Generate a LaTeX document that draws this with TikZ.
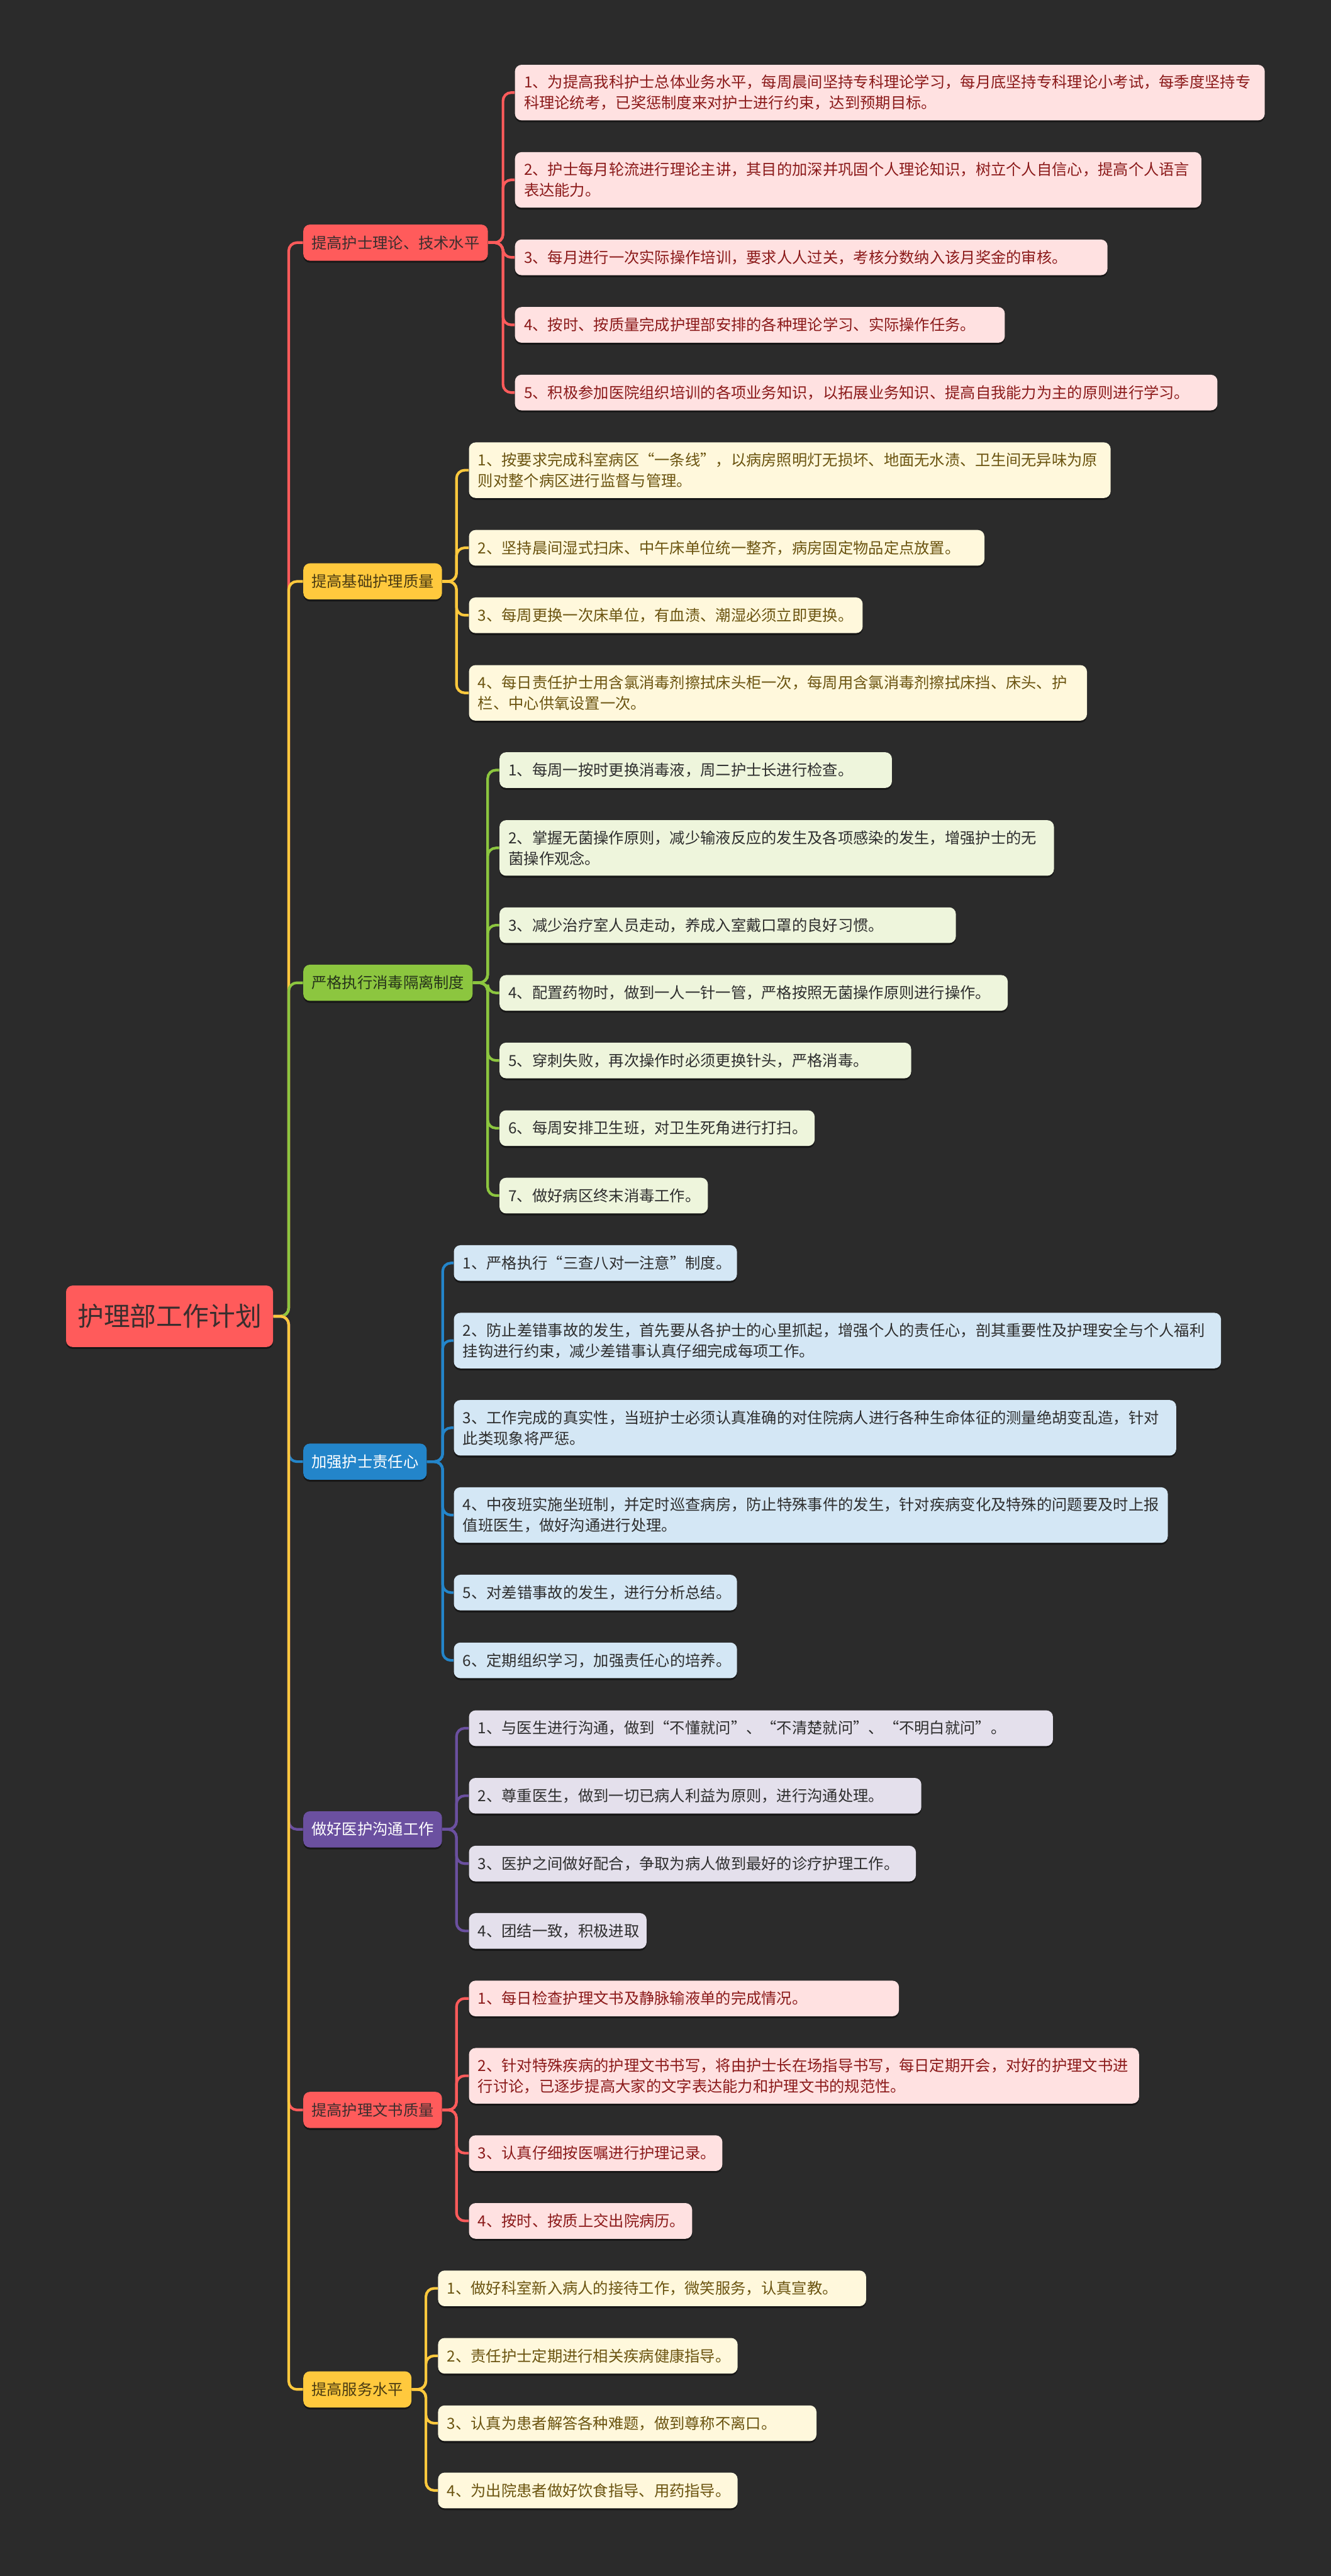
\documentclass[tikz,border=0pt]{standalone}
\usepackage{fontspec}
\setmainfont{Noto Sans CJK SC}
\usetikzlibrary{shadows}
\definecolor{bg}{HTML}{2B2B2B}
\definecolor{cred}{HTML}{FF5B5B}
\definecolor{cyel}{HTML}{FFC93D}
\definecolor{cgrn}{HTML}{8CC63F}
\definecolor{cblu}{HTML}{2385CA}
\definecolor{cpur}{HTML}{6B50A0}
\definecolor{lred}{HTML}{FFE1E1}
\definecolor{lyel}{HTML}{FFF8DC}
\definecolor{lgrn}{HTML}{EEF5DC}
\definecolor{lblu}{HTML}{D4E7F5}
\definecolor{lpur}{HTML}{E4E0EC}
\definecolor{tred}{HTML}{8B1A1A}
\definecolor{tyel}{HTML}{6B5410}
\definecolor{tdark}{HTML}{2E2E2E}
\definecolor{troot}{HTML}{3A2E2E}
\definecolor{tbyel}{HTML}{4A3B12}
\definecolor{tbgrn}{HTML}{26331A}
\tikzset{
  base/.style={rounded corners=4pt, inner ysep=0pt,
    font=\fontsize{9.3}{12.6}\selectfont,
    drop shadow={shadow xshift=0pt,shadow yshift=-1.2pt,opacity=0.45,fill=black}},
  rootbox/.style={base, fill=cred, text=troot, font=\fontsize{16}{18}\selectfont,
    inner xsep=7pt, minimum height=37.4pt, anchor=west},
  branchbox/.style={base, anchor=west, inner xsep=5pt, minimum height=22pt},
  leafbox/.style={base, anchor=west, inner xsep=5.5pt, align=left},
  lone/.style={leafbox, minimum height=21.7pt},
  ltwo/.style={leafbox, minimum height=33.8pt},
  lr/.style={fill=lred, text=tred},
  ly/.style={fill=lyel, text=tyel},
  lg/.style={fill=lgrn, text=tdark},
  lb/.style={fill=lblu, text=tdark},
  lp/.style={fill=lpur, text=tdark},
  conn/.style={draw=#1, line width=1.6pt, rounded corners=5pt},
}
\begin{document}
\begin{tikzpicture}[x=1pt,y=-1pt]
\fill[bg] (0,0) rectangle (810,1568);
\useasboundingbox (0,0) rectangle (810,1568);

% root
\node[rootbox] (root) at (40,801.2) {护理部工作计划};

% branches
\node[branchbox, fill=cred, text=troot] (b1) at (184.4,147.7) {提高护士理论、技术水平};
\node[branchbox, fill=cyel, text=tbyel] (b2) at (184.4,353.9) {提高基础护理质量};
\node[branchbox, fill=cgrn, text=tbgrn] (b3) at (184.4,598.2) {严格执行消毒隔离制度};
\node[branchbox, fill=cblu, text=white] (b4) at (184.4,889.7) {加强护士责任心};
\node[branchbox, fill=cpur, text=white] (b5) at (184.4,1113.5) {做好医护沟通工作};
\node[branchbox, fill=cred, text=troot] (b6) at (184.4,1284.3) {提高护理文书质量};
\node[branchbox, fill=cyel, text=tbyel] (b7) at (184.4,1454.4) {提高服务水平};

% branch 1 leaves
\node[ltwo, lr, text width=445.3pt] (a1) at (313.2,56.35) {1、为提高我科护士总体业务水平，每周晨间坚持专科理论学习，每月底坚持专科理论小考试，每季度坚持专\\科理论统考，已奖惩制度来对护士进行约束，达到预期目标。};
\node[ltwo, lr, text width=406.7pt] (a2) at (313.2,109.5) {2、护士每月轮流进行理论主讲，其目的加深并巩固个人理论知识，树立个人自信心，提高个人语言\\表达能力。};
\node[lone, lr, text width=349.6pt] (a3) at (313.2,156.65) {3、每月进行一次实际操作培训，要求人人过关，考核分数纳入该月奖金的审核。};
\node[lone, lr, text width=287.1pt] (a4) at (313.2,197.75) {4、按时、按质量完成护理部安排的各种理论学习、实际操作任务。};
\node[lone, lr, text width=416.5pt] (a5) at (313.2,238.95) {5、积极参加医院组织培训的各项业务知识，以拓展业务知识、提高自我能力为主的原则进行学习。};

% branch 2 leaves
\node[ltwo, ly, text width=379.5pt] (c1) at (285.2,286.2) {1、按要求完成科室病区“一条线”，以病房照明灯无损坏、地面无水渍、卫生间无异味为原\\则对整个病区进行监督与管理。};
\node[lone, ly, text width=302.7pt] (c2) at (285.2,333.45) {2、坚持晨间湿式扫床、中午床单位统一整齐，病房固定物品定点放置。};
\node[lone, ly, text width=228.6pt] (c3) at (285.2,374.5) {3、每周更换一次床单位，有血渍、潮湿必须立即更换。};
\node[ltwo, ly, text width=365.1pt] (c4) at (285.2,421.75) {4、每日责任护士用含氯消毒剂擦拭床头柜一次，每周用含氯消毒剂擦拭床挡、床头、护\\栏、中心供氧设置一次。};

% branch 3 leaves
\node[lone, lg, text width=227.8pt] (d1) at (303.8,468.75) {1、每周一按时更换消毒液，周二护士长进行检查。};
\node[ltwo, lg, text width=326.4pt] (d2) at (303.8,516.15) {2、掌握无菌操作原则，减少输液反应的发生及各项感染的发生，增强护士的无\\菌操作观念。};
\node[lone, lg, text width=266.7pt] (d3) at (303.8,563.15) {3、减少治疗室人员走动，养成入室戴口罩的良好习惯。};
\node[lone, lg, text width=298.3pt] (d4) at (303.8,604.35) {4、配置药物时，做到一人一针一管，严格按照无菌操作原则进行操作。};
\node[lone, lg, text width=239.5pt] (d5) at (303.8,645.5) {5、穿刺失败，再次操作时必须更换针头，严格消毒。};
\node[lone, lg, text width=180.8pt] (d6) at (303.8,686.7) {6、每周安排卫生班，对卫生死角进行打扫。};
\node[lone, lg, text width=115.8pt] (d7) at (303.8,727.75) {7、做好病区终末消毒工作。};

% branch 4 leaves
\node[lone, lb, text width=161.3pt] (e1) at (276,768.8) {1、严格执行“三查八对一注意”制度。};
\node[ltwo, lb, text width=455.9pt] (e2) at (276,816) {2、防止差错事故的发生，首先要从各护士的心里抓起，增强个人的责任心，剖其重要性及护理安全与个人福利\\挂钩进行约束，减少差错事认真仔细完成每项工作。};
\node[ltwo, lb, text width=428.6pt] (e3) at (276,869.1) {3、工作完成的真实性，当班护士必须认真准确的对住院病人进行各种生命体征的测量绝胡变乱造，针对\\此类现象将严惩。};
\node[ltwo, lb, text width=423.5pt] (e4) at (276,922.2) {4、中夜班实施坐班制，并定时巡查病房，防止特殊事件的发生，针对疾病变化及特殊的问题要及时上报\\值班医生，做好沟通进行处理。};
\node[lone, lb, text width=161.3pt] (e5) at (276,969.4) {5、对差错事故的发生，进行分析总结。};
\node[lone, lb, text width=161.3pt] (e6) at (276,1010.65) {6、定期组织学习，加强责任心的培养。};

% branch 5 leaves
\node[lone, lp, text width=344.4pt] (f1) at (285.2,1051.95) {1、与医生进行沟通，做到“不懂就问”、“不清楚就问”、“不明白就问”。};
\node[lone, lp, text width=264.3pt] (f2) at (285.2,1093.05) {2、尊重医生，做到一切已病人利益为原则，进行沟通处理。};
\node[lone, lp, text width=261pt] (f3) at (285.2,1134.35) {3、医护之间做好配合，争取为病人做到最好的诊疗护理工作。};
\node[lone, lp, text width=97.1pt] (f4) at (285.2,1175.35) {4、团结一致，积极进取};

% branch 6 leaves
\node[lone, lr, text width=250.7pt] (g1) at (285.2,1216.45) {1、每日检查护理文书及静脉输液单的完成情况。};
\node[ltwo, lr, text width=396.8pt] (g2) at (285.2,1263.5) {2、针对特殊疾病的护理文书书写，将由护士长在场指导书写，每日定期开会，对好的护理文书进\\行讨论，已逐步提高大家的文字表达能力和护理文书的规范性。};
\node[lone, lr, text width=143.2pt] (g3) at (285.2,1310.6) {3、认真仔细按医嘱进行护理记录。};
\node[lone, lr, text width=124.8pt] (g4) at (285.2,1351.85) {4、按时、按质上交出院病历。};

% branch 7 leaves
\node[lone, ly, text width=249.5pt] (h1) at (266.4,1392.9) {1、做好科室新入病人的接待工作，微笑服务，认真宣教。};
\node[lone, ly, text width=171.3pt] (h2) at (266.4,1433.95) {2、责任护士定期进行相关疾病健康指导。};
\node[lone, ly, text width=219.3pt] (h3) at (266.4,1475) {3、认真为患者解答各种难题，做到尊称不离口。};
\node[lone, ly, text width=171.3pt] (h4) at (266.4,1515.9) {4、为出院患者做好饮食指导、用药指导。};

% connectors: root to branches
\draw[conn=cred] (root.east) -- ++(9.3,0) |- (b1.west);
\draw[conn=cyel] (root.east) -- ++(9.3,0) |- (b2.west);
\draw[conn=cgrn] (root.east) -- ++(9.3,0) |- (b3.west);
\draw[conn=cblu] (root.east) -- ++(9.3,0) |- (b4.west);
\draw[conn=cpur] (root.east) -- ++(9.3,0) |- (b5.west);
\draw[conn=cred] (root.east) -- ++(9.3,0) |- (b6.west);
\draw[conn=cyel] (root.east) -- ++(9.3,0) |- (b7.west);

% branch to leaves
\foreach \l in {a1,a2,a3,a4,a5} \draw[conn=cred] (b1.east) -- ++(9,0) |- (\l.west);
\foreach \l in {c1,c2,c3,c4} \draw[conn=cyel] (b2.east) -- ++(8.6,0) |- (\l.west);
\foreach \l in {d1,d2,d3,d4,d5,d6,d7} \draw[conn=cgrn] (b3.east) -- ++(9,0) |- (\l.west);
\foreach \l in {e1,e2,e3,e4,e5,e6} \draw[conn=cblu] (b4.east) -- ++(9.5,0) |- (\l.west);
\foreach \l in {f1,f2,f3,f4} \draw[conn=cpur] (b5.east) -- ++(8.6,0) |- (\l.west);
\foreach \l in {g1,g2,g3,g4} \draw[conn=cred] (b6.east) -- ++(8.6,0) |- (\l.west);
\foreach \l in {h1,h2,h3,h4} \draw[conn=cyel] (b7.east) -- ++(8.6,0) |- (\l.west);
\end{tikzpicture}
\end{document}
